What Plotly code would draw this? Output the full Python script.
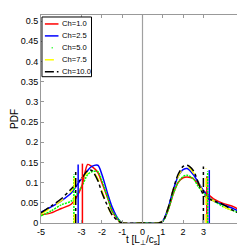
import plotly.graph_objects as go

# ---- data ----
labels = ["Ch=1.0", "Ch=2.5", "Ch=5.0", "Ch=7.5", "Ch=10.0"]
colors = ["#ff0000", "#0000ff", "#00ff00", "#ffff00", "#000000"]
dashes = ["solid", "solid", "2px,1px", "dash", "dashdot"]
legend_dashes = ["solid", "solid", "1px,20px", "dash", "dashdot"]

x_pts = [-5, -4.5, -4, -3.5, -3.0, -2.7, -2.5, -2.2, -2.0, -1.7, -1.5, -1.2, -1.0,
         0.0, 0.8, 1.0, 1.25, 1.5, 1.75, 2.0, 2.2, 2.5, 2.75, 3.0, 3.25, 3.5, 4.0, 4.5, 5.0]

pdf_ch10 = [0.020, 0.025, 0.036, 0.047, 0.090, 0.145, 0.140, 0.125, 0.100, 0.060, 0.030, 0.008, 0.0,
            0.0, 0.0, 0.005, 0.030, 0.070, 0.100, 0.112, 0.114, 0.110, 0.095, 0.080, 0.070, 0.060, 0.048, 0.040, 0.025]
pdf_ch25 = [0.027, 0.040, 0.055, 0.075, 0.110, 0.130, 0.140, 0.143, 0.120, 0.070, 0.040, 0.010, 0.0,
            0.0, 0.0, 0.005, 0.035, 0.080, 0.115, 0.132, 0.135, 0.120, 0.100, 0.080, 0.065, 0.055, 0.045, 0.035, 0.022]
pdf_ch50 = [0.018, 0.030, 0.045, 0.055, 0.090, 0.120, 0.127, 0.127, 0.105, 0.060, 0.030, 0.010, 0.0,
            0.0, 0.0, 0.004, 0.030, 0.070, 0.100, 0.115, 0.118, 0.110, 0.090, 0.075, 0.063, 0.055, 0.040, 0.030, 0.020]
pdf_ch75 = [0.022, 0.038, 0.055, 0.080, 0.110, 0.125, 0.130, 0.110, 0.080, 0.040, 0.020, 0.005, 0.0,
            0.0, 0.0, 0.005, 0.035, 0.080, 0.115, 0.135, 0.140, 0.125, 0.100, 0.075, 0.062, 0.055, 0.040, 0.030, 0.020]
pdf_ch100 = [0.025, 0.042, 0.060, 0.085, 0.110, 0.130, 0.130, 0.105, 0.075, 0.040, 0.020, 0.005, 0.0,
             0.0, 0.0, 0.004, 0.035, 0.080, 0.120, 0.140, 0.143, 0.130, 0.100, 0.070, 0.060, 0.055, 0.045, 0.030, 0.020]
series = [pdf_ch10, pdf_ch25, pdf_ch50, pdf_ch75, pdf_ch100]

# mean markers (vertical lines): position and height, left and right
mean_left = [-2.96, -3.17, -3.38, -3.36, -3.29]
height_left = [0.147, 0.145, 0.120, 0.129, 0.130]
mean_right = [3.17, 3.29, 3.21, 3.13, 3.00]
height_right = [0.116, 0.131, 0.128, 0.135, 0.140]

x_ticks = [-5, -3, -2, -1, 0, 1, 2, 3, 5]
y_ticks = [0, 0.05, 0.1, 0.15, 0.2, 0.25, 0.3, 0.35, 0.4, 0.45, 0.5]
y_tick_text = ["0", "0.05", "0.1", "0.15", "0.2", "0.25", "0.3", "0.35", "0.4", "0.45", "0.5"]

fig = go.Figure()

# zero line
fig.add_trace(go.Scatter(x=[0, 0], y=[0, 0.515], mode="lines",
                         line=dict(color="#a0a0a0", width=1.2), showlegend=False, hoverinfo="skip"))

for i in range(5):
    fig.add_trace(go.Scatter(x=x_pts, y=series[i], mode="lines", name=labels[i], showlegend=False,
                             line=dict(color=colors[i], width=1.5, dash=dashes[i], shape="spline", smoothing=0.8)))
for i in range(5):
    for m, h in ((mean_left[i], height_left[i]), (mean_right[i], height_right[i])):
        fig.add_trace(go.Scatter(x=[m, m], y=[0, h], mode="lines", showlegend=False,
                                 line=dict(color=colors[i], width=1.5, dash=dashes[i])))

# ---- compact legend (MATLAB style) ----
W, H = 209.0, 209.0  # plot area in px
def px_x(p):
    return (p - 30) / W
def px_y(p):
    return (215 - p) / H

shapes = [dict(type="rect", xref="paper", yref="paper",
               x0=px_x(31), x1=px_x(82), y0=px_y(68), y1=px_y(8),
               line=dict(color="#000", width=1), fillcolor="white", layer="above")]
annotations = []
for i in range(5):
    row = 15 + 12 * i
    shapes.append(dict(type="line", xref="paper", yref="paper",
                       x0=px_x(34) if i != 2 else px_x(41), x1=px_x(48), y0=px_y(row), y1=px_y(row),
                       line=dict(color=colors[i], width=1.5, dash=legend_dashes[i]), layer="above"))
    annotations.append(dict(text=labels[i], xref="paper", yref="paper",
                            x=px_x(50), y=px_y(row), xanchor="left", yanchor="middle",
                            showarrow=False, font=dict(size=7.6, color="#000")))

annotations.append(dict(text="t [L<sub>\u22a5</sub>/c<sub>s</sub>]", xref="paper", yref="paper",
                        x=0.5, y=-0.08, xanchor="center", yanchor="middle",
                        showarrow=False, font=dict(size=10)))

axis_common = dict(showline=True, linecolor="#999999", linewidth=1, mirror="ticks",
                   ticks="inside", ticklen=3, tickcolor="#999999", showgrid=False, zeroline=False,
                   tickfont=dict(family="Liberation Sans, Arial", size=9, color="#000"))

fig.update_layout(
    width=245, height=245,
    margin=dict(l=30, r=6, t=6, b=30),
    plot_bgcolor="white", paper_bgcolor="white",
    font=dict(family="Liberation Sans, Arial", size=9, color="#000"),
    showlegend=False,
    xaxis=dict(range=[-5, 5], tickvals=x_ticks, ticktext=[str(v) for v in x_ticks],
               **axis_common),
    yaxis=dict(range=[0, 0.515], tickvals=y_ticks, ticktext=y_tick_text,
               title=dict(text="PDF", font=dict(size=10), standoff=0),
               **axis_common),
    shapes=shapes,
    annotations=annotations,
)

fig.write_html("out.html")
